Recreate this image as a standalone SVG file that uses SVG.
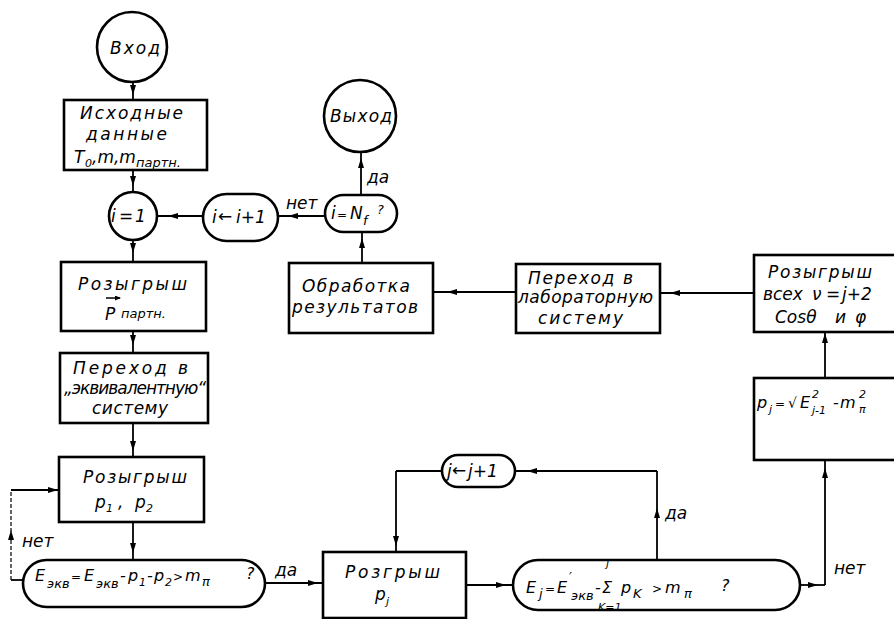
<svg xmlns="http://www.w3.org/2000/svg" width="894" height="619" viewBox="0 0 894 619">
<defs>
<style>
.box{fill:#fff;stroke:#000;stroke-width:2.6}
.ln{fill:none;stroke:#000;stroke-width:1.8}
.ar{fill:none;stroke:#000;stroke-width:1.8;marker-mid:url(#ah)}
.ard{fill:none;stroke:#000;stroke-width:1.2;stroke-dasharray:4 2;marker-mid:url(#ah)}
text{font-family:"DejaVu Sans","Liberation Sans",sans-serif;font-style:oblique;font-size:17px;fill:#000}
.f{font-size:16px}
.s{font-size:11px}
.sm{font-size:13px}
.op{font-size:12px}
</style>
<marker id="ah" markerUnits="userSpaceOnUse" markerWidth="10" markerHeight="6" refX="5" refY="3" orient="auto">
<path d="M0,0 L10,3 L0,6 z" fill="#000"/>
</marker>
<marker id="vec" markerUnits="userSpaceOnUse" markerWidth="6" markerHeight="5" refX="5" refY="2.5" orient="auto">
<path d="M0,0 L6,2.5 L0,5 z" fill="#000"/>
</marker>
</defs>

<g id="connectors">
<path class="ar" d="M133,82 L133,90 L133,100"/>
<path class="ar" d="M133,170 L133,181 L133,193"/>
<path class="ar" d="M133,240 L133,248 L133,262"/>
<path class="ar" d="M133,331 L133,340 L133,353"/>
<path class="ar" d="M133,423 L133,446 L133,457"/>
<path class="ar" d="M133,522 L133,548 L133,560"/>
<path class="ln" d="M23,580 L11,580"/>
<path class="ard" d="M11,580 L11,535 L11,490"/>
<path class="ar" d="M11,490 L53,490 L59,490"/>
<path class="ar" d="M265,583 L313,583 L323,583"/>
<path class="ar" d="M466,585 L501,585 L513,585"/>
<path class="ar" d="M657,560 L657,513 L657,471"/>
<path class="ar" d="M657,471 L532,471 L515,471"/>
<path class="ln" d="M442,471 L396,471"/>
<path class="ar" d="M396,471 L396,541 L396,552"/>
<path class="ar" d="M800,585 L813,585 L825,585"/>
<path class="ar" d="M825,585 L825,473 L825,460"/>
<path class="ar" d="M825,378 L825,338 L825,332"/>
<path class="ar" d="M754,293 L675,293 L660,293"/>
<path class="ar" d="M516,292 L452,292 L433,292"/>
<path class="ar" d="M362,263 L362,243 L362,232"/>
<path class="ar" d="M361,195 L361,163 L361,152"/>
<path class="ar" d="M325,216 L293,216 L278,216"/>
<path class="ar" d="M203,216 L173,216 L157,216"/>
</g>

<g id="entry">
<circle cx="132" cy="47" r="35" fill="#fff" stroke="#000" stroke-width="2.6"/>
<text x="110" y="54" textLength="50">Вход</text>
</g>

<g id="exit">
<circle cx="360" cy="116" r="36" fill="#fff" stroke="#000" stroke-width="2.6"/>
<text x="330" y="122" textLength="62">Выход</text>
</g>

<g id="input-data">
<rect class="box" x="64" y="100" width="143" height="70"/>
<text x="80" y="119" textLength="103">Исходные</text>
<text x="86" y="140" textLength="81">данные</text>
<text x="74" y="163">T<tspan class="s" x="85" y="167">0</tspan><tspan x="92" y="163">,m,m</tspan><tspan class="sm" x="136" y="167">партн.</tspan></text>
</g>

<g id="i-eq-1">
<circle cx="133" cy="216" r="24" fill="#fff" stroke="#000" stroke-width="2.6"/>
<text x="111" y="222">i<tspan x="119">=</tspan><tspan x="135">1</tspan></text>
</g>

<g id="i-inc">
<rect class="box" x="203" y="194" width="75" height="47" rx="23.5"/>
<text x="212" y="223">i<tspan x="218" y="222">←</tspan><tspan x="236" y="223">i+1</tspan></text>
</g>

<g id="i-eq-nf">
<rect class="box" x="325" y="195" width="72" height="37" rx="18.5"/>
<text x="331" y="219">i<tspan class="op" x="337">=</tspan><tspan x="350">N</tspan><tspan class="sm" x="363" y="225">f</tspan><tspan class="sm" x="377" y="214">?</tspan></text>
</g>

<g id="processing">
<rect class="box" x="289" y="263" width="144" height="70"/>
<text x="302" y="292" textLength="108">Обработка</text>
<text x="292" y="313" textLength="126">результатов</text>
</g>

<g id="lab-system">
<rect class="box" x="516" y="264" width="144" height="69"/>
<text x="528" y="284" textLength="105">Переход в</text>
<text x="518" y="303" textLength="135">лабораторную</text>
<text x="538" y="324" textLength="85">систему</text>
</g>

<g id="angles">
<rect class="box" x="754" y="255" width="150" height="77"/>
<text x="768" y="278" textLength="104">Розыгрыш</text>
<text x="763" y="300">всех<tspan x="812">ν</tspan><tspan x="826">=</tspan><tspan x="842">j+2</tspan></text>
<text x="775" y="323">Cosθ<tspan x="835">и</tspan><tspan x="855">φ</tspan></text>
</g>

<g id="pj-calc">
<rect class="box" x="754" y="378" width="150" height="82"/>
<text class="f" x="757" y="408">p<tspan class="s" x="769" y="413">j</tspan><tspan class="op" x="775" y="408">=</tspan><tspan font-size="14" x="788">√</tspan><tspan x="800">E</tspan><tspan class="s" x="812" y="398">2</tspan><tspan class="s" x="812" y="414">j-1</tspan><tspan x="833" y="408">-</tspan><tspan x="840">m</tspan><tspan class="s" x="859" y="398">2</tspan><tspan class="s" x="859" y="413">π</tspan></text>
</g>

<g id="draw-p-partner">
<rect class="box" x="61" y="262" width="145" height="69"/>
<text x="78" y="290" textLength="109">Розыгрыш</text>
<path d="M106,298 L120,298" stroke="#000" stroke-width="1.5" fill="none" marker-end="url(#vec)"/>
<text x="105" y="320" font-size="19">P<tspan class="sm" x="121" y="318">партн.</tspan></text>
</g>

<g id="equiv-system">
<rect class="box" x="60" y="353" width="148" height="70"/>
<text x="73" y="374" textLength="115">Переход в</text>
<text x="64" y="394" textLength="142">„эквивалентную“</text>
<text x="92" y="414" textLength="76">систему</text>
</g>

<g id="draw-p1-p2">
<rect class="box" x="59" y="457" width="145" height="65"/>
<text x="83" y="483" textLength="104">Розыгрыш</text>
<text x="95" y="508">p<tspan class="s" x="106" y="512">1</tspan><tspan x="118" y="508">,</tspan><tspan x="135">p</tspan><tspan class="s" x="146" y="512">2</tspan></text>
</g>

<g id="e-equiv-check">
<rect class="box" x="23" y="560" width="242" height="47" rx="23.5"/>
<text class="f" x="35" y="581">E<tspan class="sm" x="47" y="588">экв</tspan><tspan class="op" x="71" y="581">=</tspan><tspan x="84">E</tspan><tspan class="sm" x="96" y="588">экв</tspan><tspan x="120" y="581">-</tspan><tspan x="128">p</tspan><tspan class="s" x="139" y="586">1</tspan><tspan x="147" y="581">-</tspan><tspan x="154">p</tspan><tspan class="s" x="165" y="586">2</tspan><tspan class="op" x="173" y="581">&gt;</tspan><tspan x="185">m</tspan><tspan class="sm" x="202" y="586">π</tspan><tspan x="246" y="579">?</tspan></text>
</g>

<g id="draw-pj">
<rect class="box" x="323" y="552" width="143" height="66"/>
<text x="345" y="578" textLength="95">Розгрыш</text>
<text x="375" y="600">p<tspan class="s" x="386" y="605">j</tspan></text>
</g>

<g id="j-inc">
<rect class="box" x="442" y="455" width="73" height="32" rx="16"/>
<text x="447" y="477">j<tspan x="452" y="476">←</tspan><tspan x="468" y="477">j+1</tspan></text>
</g>

<g id="ej-check">
<rect class="box" x="513" y="560" width="287" height="50" rx="25"/>
<text class="f" x="526" y="593">E<tspan class="sm" x="539" y="598">j</tspan><tspan class="op" x="545" y="593">=</tspan><tspan x="557">E</tspan><tspan class="sm" x="569" y="581">′</tspan><tspan class="sm" x="571" y="600">экв</tspan><tspan x="595" y="593">-</tspan><tspan x="602">Σ</tspan><tspan class="s" x="606" y="567">j</tspan><tspan class="s" x="598" y="611">K=1</tspan><tspan x="621" y="593">p</tspan><tspan class="sm" x="633" y="598">K</tspan><tspan class="op" x="652" y="593">&gt;</tspan><tspan x="665">m</tspan><tspan class="sm" x="684" y="598">π</tspan><tspan x="721" y="591">?</tspan></text>
</g>

<g id="labels">
<text x="286" y="209">нет</text>
<text x="367" y="183">да</text>
<text x="22" y="547">нет</text>
<text x="275" y="576">да</text>
<text x="665" y="519">да</text>
<text x="834" y="574">нет</text>
</g>
</svg>
